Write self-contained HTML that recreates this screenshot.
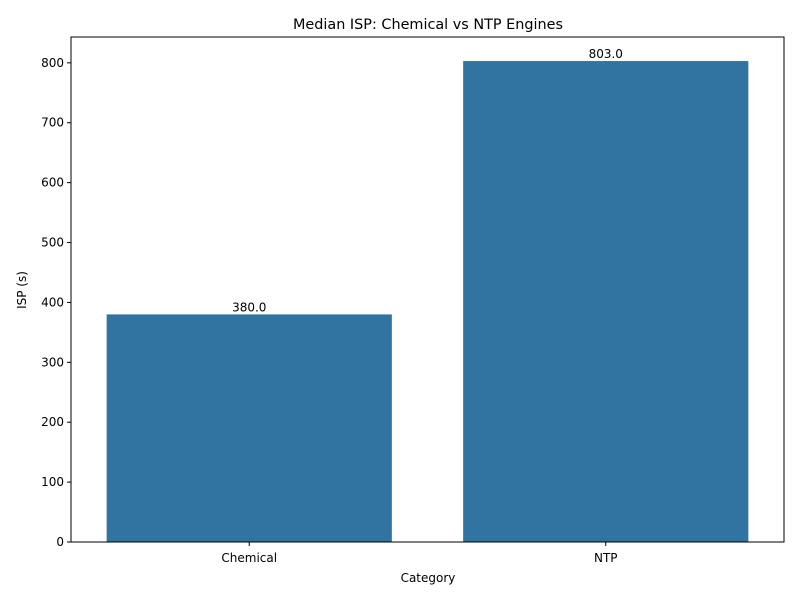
<!DOCTYPE html>
<html><head><meta charset="utf-8"><style>body{margin:0;background:#fff}text{font-family:"DejaVu Sans","Liberation Sans",sans-serif}</style></head>
<body>
<svg id="chart" width="800" height="600" xmlns="http://www.w3.org/2000/svg">
<rect width="800" height="600" fill="#fff"/>
<text x="428" y="29" font-size="14.4" text-anchor="middle">Median ISP: Chemical vs NTP Engines</text>
<g id="plot"></g>
<text x="428" y="582" font-size="12" text-anchor="middle">Category</text>
<text x="26" y="290" font-size="12" text-anchor="middle" transform="rotate(-90 26 290)">ISP (s)</text>
</svg>
<script>
const categories = ["Chemical", "NTP"];
const values = [380.0, 803.0];
const yTicks = [0, 100, 200, 300, 400, 500, 600, 700, 800];
const L = 71, R = 784, T = 37, B = 542;
const yMax = Math.max(...values) * 1.05;
const y = v => B - v / yMax * (B - T);
const band = (R - L) / categories.length;
const x = i => L + band * (i + 0.5);
const NS = "http://www.w3.org/2000/svg";
const g = document.getElementById("plot");
function mk(tag, attrs, txt) { const e = document.createElementNS(NS, tag); for (const k in attrs) e.setAttribute(k, attrs[k]); if (txt !== undefined) e.textContent = txt; g.appendChild(e); return e; }
categories.forEach((c, i) => {
  const bw = band * 0.8;
  const r = mk("rect", { x: x(i) - bw / 2, y: y(values[i]), width: bw, height: B - y(values[i]), fill: "#3274a1" });
  
  
  const lbl = mk("text", { x: x(i), y: y(values[i]) - 3, "font-size": 12, "text-anchor": "middle" }, values[i].toFixed(1));
  
  
  mk("line", { x1: x(i), x2: x(i), y1: B, y2: B + 4, stroke: "#000" });
  const t = mk("text", { x: x(i), y: B + 20, "font-size": 12, "text-anchor": "middle" }, c);
  
  
});
yTicks.forEach(v => {
  mk("line", { x1: L - 4, x2: L, y1: y(v), y2: y(v), stroke: "#000" });
  const t = mk("text", { x: L - 7, y: y(v) + 4, "font-size": 12, "text-anchor": "end" }, v);
  
  
});
const frame = mk("rect", { x: L, y: T, width: R - L, height: B - T, fill: "none", stroke: "#000", "stroke-width": 1 });


</script>
</body></html>
